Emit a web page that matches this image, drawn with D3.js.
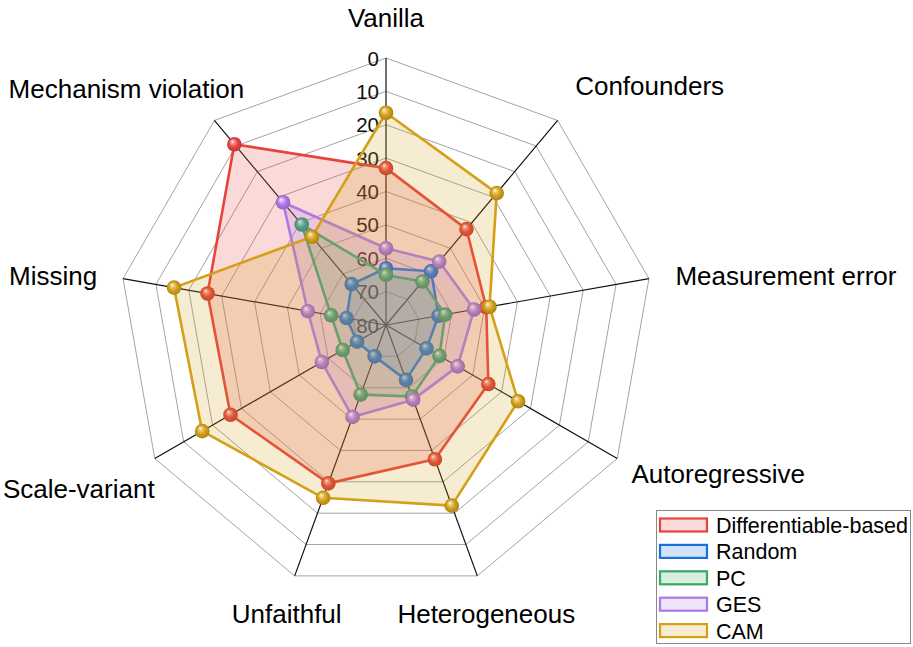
<!DOCTYPE html>
<html>
<head>
<meta charset="utf-8">
<script src="https://cdn.jsdelivr.net/npm/d3@7"></script>
<style>
  html, body { margin: 0; padding: 0; background: #fff; }
  svg { display: block; font-family: "Liberation Sans", Arial, sans-serif; }
</style>
</head>
<body>
<script>
let width = 913;
let height = 647;

// axes, clockwise from the top
const axes = ["Vanilla", "Confounders", "Measurement error", "Autoregressive",
              "Heterogeneous", "Unfaithful", "Scale-variant", "Missing",
              "Mechanism violation"];

const seriesNames = ["Differentiable-based", "Random", "PC", "GES", "CAM"];

const diffValues   = [33, 42.5, 49.5, 44.6, 37.2, 29.5, 26.2, 25.7, 9.3];
const randomValues = [63, 59, 64, 66, 62.5, 70, 70, 68, 64];
const pcValues     = [65, 63, 62, 61.5, 57.2, 57.8, 65, 63.3, 40.7];
const gesValues    = [57, 55.2, 53.2, 55.2, 56.2, 50.7, 57.8, 56.2, 32];
const camValues    = [16.4, 28.4, 48.5, 34.3, 22.4, 24.9, 16.4, 15.5, 45.5];

const tickValues = [0, 10, 20, 30, 40, 50, 60, 70, 80];

const colors = ["#e8423f", "#1a6fe0", "#3aaa68", "#b078e6", "#d4a017"];

// label placement relative to the tip of each spoke
const labelNudge = [[0, -40], [92, -34], [137, -3], [101, 15], [9, 38],
                    [-8, 38], [-76, 30], [-70, -3], [-88, -31]];

let cx = 386, cy = 325, radius = 267;

let svg = d3.select("body").append("svg")
            .attr("width", width)
            .attr("height", height);

let r = d3.scaleLinear().domain([0, 80]).range([radius, 0]);
let angle = d3.scaleLinear().domain([0, axes.length]).range([0, 2 * Math.PI]);

function pt(i, v) {
  let a = angle(i);
  return [cx + r(v) * Math.sin(a), cy - r(v) * Math.cos(a)];
}

let data = [diffValues, randomValues, pcValues, gesValues, camValues].map(function(vals, k) {
  return {name: seriesNames[k], color: colors[k], values: vals};
});

// sphere gradients for markers
let defs = svg.append("defs");
data.forEach(function(s, k) {
  let c = d3.color(s.color);
  let g = defs.append("radialGradient")
              .attr("id", "ball" + k)
              .attr("cx", "50%").attr("cy", "50%").attr("r", "55%")
              .attr("fx", "36%").attr("fy", "30%");
  g.append("stop").attr("offset", "0%").attr("stop-color", "#ffffff");
  g.append("stop").attr("offset", "22%").attr("stop-color", d3.interpolateRgb("#ffffff", s.color)(0.55));
  g.append("stop").attr("offset", "55%").attr("stop-color", s.color);
  g.append("stop").attr("offset", "100%").attr("stop-color", c.darker(0.7).formatHex());
});

// grid rings
let ringLine = d3.line();
let grid = svg.append("g");
tickValues.filter(function(t) { return t < 80; }).forEach(function(t) {
  let pts = axes.map(function(_, i) { return pt(i, t); });
  grid.append("path")
      .attr("d", ringLine(pts) + "Z")
      .attr("fill", "none")
      .attr("stroke", "#999")
      .attr("stroke-width", 0.9);
});

// spokes
grid.selectAll("line")
    .data(axes)
    .enter().append("line")
    .attr("x1", cx).attr("y1", cy)
    .attr("x2", function(d, i) { return pt(i, 0)[0]; })
    .attr("y2", function(d, i) { return pt(i, 0)[1]; })
    .attr("stroke", "#111")
    .attr("stroke-width", 1.2);

// radial tick labels
svg.append("g").selectAll("text")
   .data(tickValues)
   .enter().append("text")
   .attr("x", cx - 7)
   .attr("y", function(d) { return cy - r(d); })
   .attr("text-anchor", "end")
   .attr("dominant-baseline", "central")
   .attr("font-size", 20.5)
   .attr("fill", "#111")
   .text(function(d) { return d; });

// series: fill, outline, markers
data.forEach(function(s, k) {
  let pts = s.values.map(function(v, i) { return pt(i, v); });
  let g = svg.append("g");
  g.append("path")
   .attr("d", ringLine(pts) + "Z")
   .attr("fill", s.color)
   .attr("fill-opacity", 0.2)
   .attr("stroke", "none");
  g.append("path")
   .attr("d", ringLine(pts) + "Z")
   .attr("fill", "none")
   .attr("stroke", s.color)
   .attr("stroke-width", 2.6)
   .attr("stroke-linejoin", "round");
  g.selectAll("circle")
   .data(pts)
   .enter().append("circle")
   .attr("cx", function(d) { return d[0]; })
   .attr("cy", function(d) { return d[1]; })
   .attr("r", 7.3)
   .attr("fill", "url(#ball" + k + ")");
});

// axis labels
svg.append("g").selectAll("text")
   .data(axes)
   .enter().append("text")
   .attr("x", function(d, i) { return pt(i, 0)[0] + labelNudge[i][0]; })
   .attr("y", function(d, i) { return pt(i, 0)[1] + labelNudge[i][1]; })
   .attr("text-anchor", "middle")
   .attr("dominant-baseline", "central")
   .attr("font-size", 26)
   .attr("fill", "#000")
   .text(function(d) { return d; });

// legend
let legend = svg.append("g");
legend.append("rect")
      .attr("x", 656.5).attr("y", 510.5)
      .attr("width", 254).attr("height", 133)
      .attr("fill", "#fff")
      .attr("stroke", "#888")
      .attr("stroke-width", 1);

let rows = legend.selectAll("g.row")
                 .data(data)
                 .enter().append("g")
                 .attr("class", "row")
                 .attr("transform", function(d, i) { return "translate(0," + (525 + i * 26.4) + ")"; });

rows.append("rect")
    .attr("x", 660).attr("y", -6.5)
    .attr("width", 47).attr("height", 13)
    .attr("fill", function(d) { return d3.interpolateRgb("#ffffff", d.color)(0.2); })
    .attr("stroke", function(d) { return d.color; })
    .attr("stroke-width", 2.2);

rows.append("text")
    .attr("x", 716).attr("y", 1)
    .attr("dominant-baseline", "central")
    .attr("font-size", 21.5)
    .attr("fill", "#000")
    .text(function(d) { return d.name; });
</script>
</body>
</html>
